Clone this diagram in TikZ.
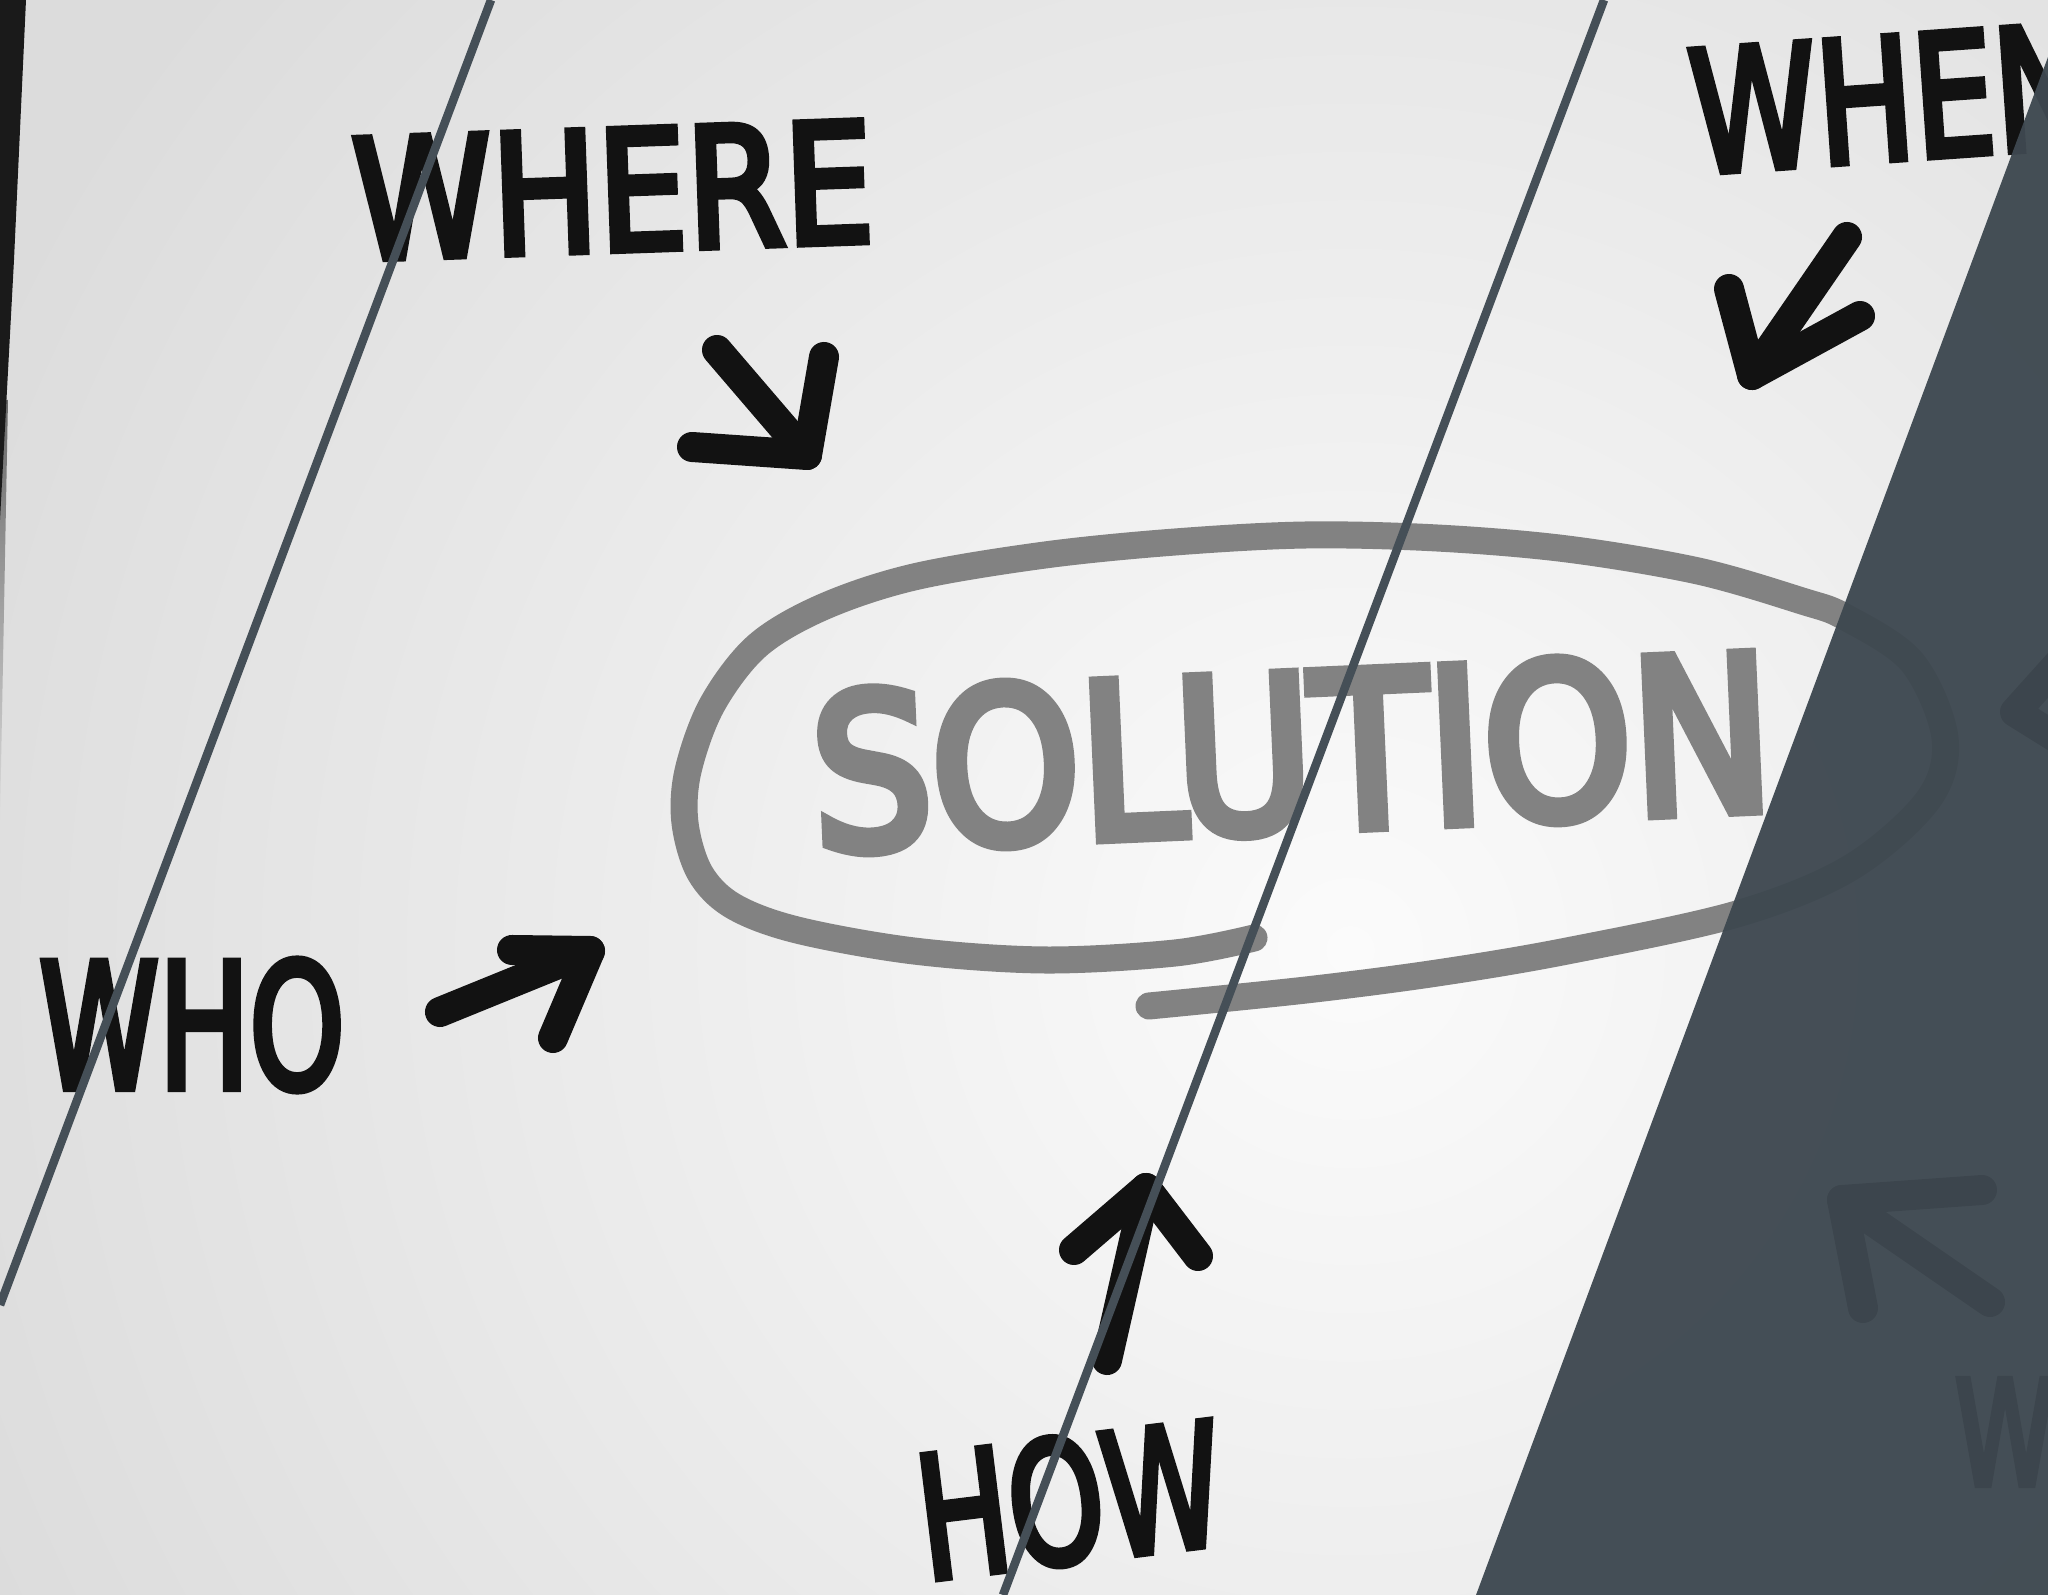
\documentclass[tikz,border=0pt]{standalone}
\usepackage{fontspec}
\usepackage{graphicx}
\newfontfamily\handfont{DejaVu Sans}[FakeBold=5]
\newfontfamily\greyfont{DejaVu Sans}[FakeBold=6]
\definecolor{slate}{RGB}{69,79,87}
\definecolor{slatefill}{RGB}{62,72,80}
\definecolor{ink}{RGB}{18,18,18}
\definecolor{pencil}{RGB}{130,130,130}
\definecolor{bgouter}{RGB}{220,220,220}
\definecolor{bginner}{RGB}{251,251,251}
\definecolor{edgedark}{RGB}{26,26,26}
\begin{document}
\begin{tikzpicture}[x=0.01cm,y=-0.01cm,
  hand/.style={inner sep=0pt, outer sep=0pt, text=ink, font=\handfont},
  greyhand/.style={inner sep=0pt, outer sep=0pt, text=pencil, font=\greyfont},
  marker/.style={draw=ink, line width=0.3cm, line cap=round, line join=round},
  ring/.style={draw=pencil, line width=0.27cm, line cap=round, line join=round},
  overlay line/.style={draw=slate, line width=0.085cm}]
\useasboundingbox (0,0) rectangle (2048,1595);
\clip (0,0) rectangle (2048,1595);
% background
\fill[bgouter] (0,0) rectangle (2048,1595);
\shade[inner color=bginner, outer color=bgouter] (1350,950) circle (1500);
\shade[top color=edgedark!60!bgouter, bottom color=bgouter] (0,400) -- (8,400) -- (0,820) -- cycle;
\fill[edgedark] (0,0) -- (26,0) -- (14,260) -- (0,520) -- cycle;
% texts
\node[hand, rotate=2] (where) at (613,190) {\resizebox{5.2cm}{1.2cm}{WHERE}};
\node[hand, rotate=4] (when) at (1890,98) {\resizebox{4.0cm}{1.22cm}{WHEN}};
\node[hand] (who) at (192,1025) {\resizebox{3.05cm}{1.28cm}{WHO}};
\node[hand, rotate=7] (how) at (1070,1500) {\resizebox{3.05cm}{1.25cm}{HOW}};
\node[hand] (ghostw) at (2005,1432) {\resizebox{1.0cm}{1.05cm}{W}};
\node[greyhand, rotate=2.5] (solution) at (1292,752) {\resizebox{9.6cm}{1.58cm}{SOLUTION}};
% ellipse round SOLUTION
\draw[ring] plot[smooth, tension=0.55] coordinates {(1149,1006) (1306,990) (1437,973) (1567,951) (1737,914) (1850,868) (1928,800) (1945,738) (1912,662) (1845,617) (1802,601) (1698,571) (1567,549) (1437,538) (1306,535) (1175,542) (1045,555) (914,577) (823,607) (757,646) (712,705) (688,771) (685,823) (700,873) (733,906) (797,930) (914,951) (1045,960) (1175,953) (1254,938)};
% arrows
\coordinate (a1tail) at (717,350); \coordinate (a1tip) at (807,455);
\coordinate (a1u) at (824,357); \coordinate (a1l) at (692,447);
\draw[marker] (a1tail) -- (a1tip); \draw[marker] (a1u) -- (a1tip) -- (a1l);
\coordinate (a2tail) at (1847,237); \coordinate (a2tip) at (1752,375);
\coordinate (a2u) at (1729,289); \coordinate (a2r) at (1860,316);
\draw[marker] (a2tail) -- (a2tip); \draw[marker] (a2u) -- (a2tip) -- (a2r);
\coordinate (a3tail) at (440,1012); \coordinate (a3tip) at (590,951);
\coordinate (a3l) at (512,950); \coordinate (a3d) at (553,1038);
\draw[marker] (a3tail) -- (a3tip); \draw[marker] (a3l) -- (a3tip) -- (a3d);
\coordinate (a4tail) at (1107,1360); \coordinate (a4tip) at (1146,1188);
\coordinate (a4l) at (1074,1250); \coordinate (a4r) at (1198,1256);
\draw[marker] (a4tail) -- (a4tip); \draw[marker] (a4l) -- (a4tip) -- (a4r);
\coordinate (a5tail) at (1990,1302); \coordinate (a5tip) at (1842,1200);
\coordinate (a5r) at (1982,1190); \coordinate (a5d) at (1863,1308);
\draw[marker] (a5tail) -- (a5tip); \draw[marker] (a5r) -- (a5tip) -- (a5d);
\coordinate (a6tip) at (2015,712); \coordinate (a6u) at (2060,662); \coordinate (a6d) at (2060,740);
\draw[marker] (a6u) -- (a6tip) -- (a6d);
% dark panel
\fill[slatefill, opacity=0.96] (2048,57) -- (2048,1595) -- (1476,1595) -- cycle;
% overlay lines
\coordinate (l1a) at (491,0); \coordinate (l1b) at (0,1305);
\coordinate (l2a) at (1604,0); \coordinate (l2b) at (1003,1595);
\draw[overlay line] (l1a) -- (l1b);
\draw[overlay line] (l2a) -- (l2b);
\end{tikzpicture}
\end{document}
